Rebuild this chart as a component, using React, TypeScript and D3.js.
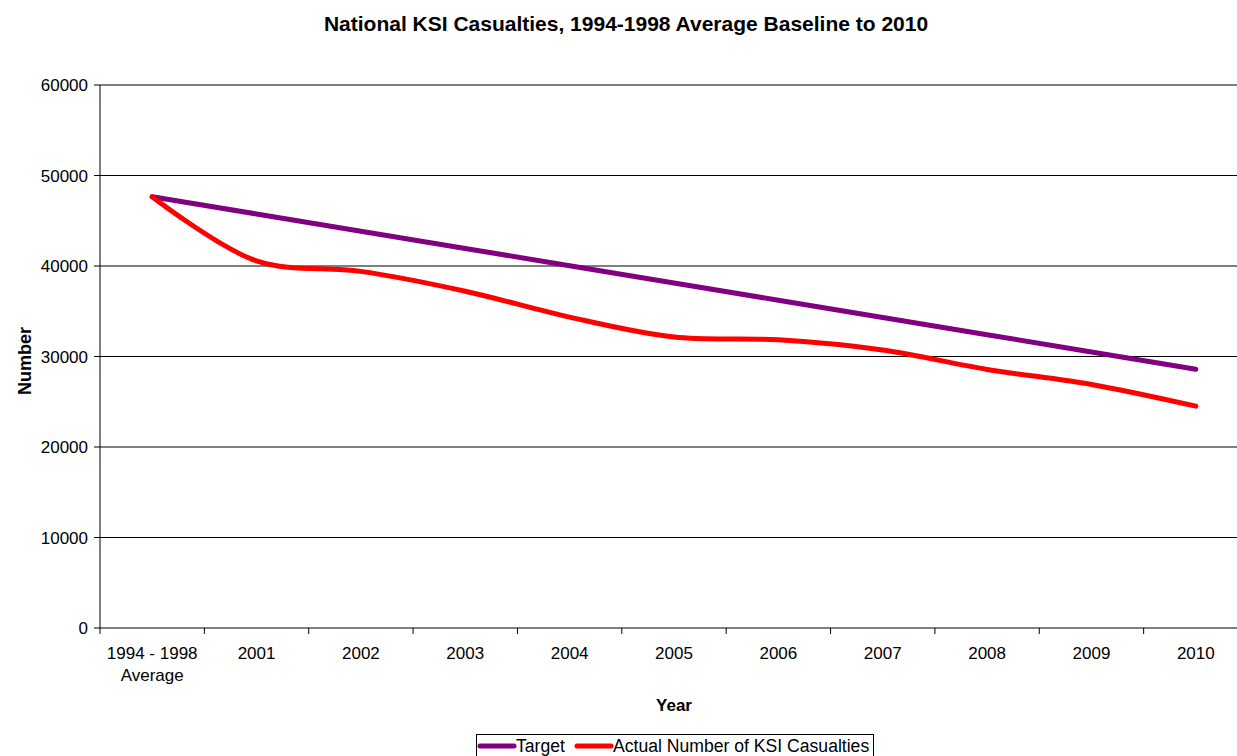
import React from "react";
import * as d3 from "d3";

const categories = [
  "1994 - 1998\nAverage",
  "2001",
  "2002",
  "2003",
  "2004",
  "2005",
  "2006",
  "2007",
  "2008",
  "2009",
  "2010",
];

const targetValues = [47656, 45750, 43844, 41938, 40031, 38125, 36219, 34313, 32406, 30500, 28594];
const actualValues = [47656, 40560, 39407, 37215, 34351, 32155, 31845, 30720, 28572, 26912, 24510];
const yTicks = [0, 10000, 20000, 30000, 40000, 50000, 60000];

const W = 1237;
const H = 756;
const left = 100;
const right = 1248;
const top = 85;
const bottom = 628;
const font = "Arial, 'Liberation Sans', sans-serif";

export default function App() {
  const x = d3.scaleBand<number>().domain(d3.range(categories.length)).range([left, right]);
  const y = d3.scaleLinear().domain([0, 60000]).range([bottom, top]);
  const cx = (i: number) => (x(i) as number) + x.bandwidth() / 2;

  const straight = d3.line<number>().x((_, i) => cx(i)).y((d) => y(d));
  const smooth = d3
    .line<number>()
    .x((_, i) => cx(i))
    .y((d) => y(d))
    .curve(d3.curveCatmullRom.alpha(0.5));

  return (
    <svg
      width={W}
      height={H}
      style={{ position: "absolute", left: 0, top: 0, background: "#fff" }}
      fontFamily={font}
    >
      <text x={626} y={31} textAnchor="middle" fontSize={21} fontWeight="bold">
        National KSI Casualties, 1994-1998 Average Baseline to 2010
      </text>

      {yTicks.map((t) => (
        <g key={t}>
          <line x1={left} x2={W} y1={y(t)} y2={y(t)} stroke="#000" strokeWidth={1} />
          <line x1={94} x2={left} y1={y(t)} y2={y(t)} stroke="#000" />
          <text x={88} y={y(t) + 6} textAnchor="end" fontSize={17}>
            {t}
          </text>
        </g>
      ))}
      <line x1={left} x2={left} y1={top} y2={bottom} stroke="#000" />

      {categories.map((c, i) => (
        <g key={c}>
          <line
            x1={(x(i) as number)}
            x2={(x(i) as number)}
            y1={bottom}
            y2={bottom + 6}
            stroke="#000"
          />
          {c.split("\n").map((ln, j) => (
            <text key={j} x={cx(i)} y={659 + j * 22} textAnchor="middle" fontSize={17}>
              {ln}
            </text>
          ))}
        </g>
      ))}

      <text x={674} y={711} textAnchor="middle" fontSize={17} fontWeight="bold">
        Year
      </text>
      <text
        transform="translate(31,361) rotate(-90)"
        textAnchor="middle"
        fontSize={18}
        fontWeight="bold"
      >
        Number
      </text>

      <path d={straight(targetValues) ?? ""} fill="none" stroke="#800080" strokeWidth={5} strokeLinecap="round" />
      <path d={smooth(actualValues) ?? ""} fill="none" stroke="#ff0000" strokeWidth={5} strokeLinecap="round" />

      <g>
        <rect x={476.5} y={734.5} width={397} height={30} fill="#fff" stroke="#000" />
        <line x1={480} x2={514} y1={746} y2={746} stroke="#800080" strokeWidth={5} strokeLinecap="round" />
        <text x={516} y={752} fontSize={17.6}>Target</text>
        <line x1={577} x2={611} y1={746} y2={746} stroke="#ff0000" strokeWidth={5} strokeLinecap="round" />
        <text x={613} y={752} fontSize={17.6}>Actual Number of KSI Casualties</text>
      </g>
    </svg>
  );
}
